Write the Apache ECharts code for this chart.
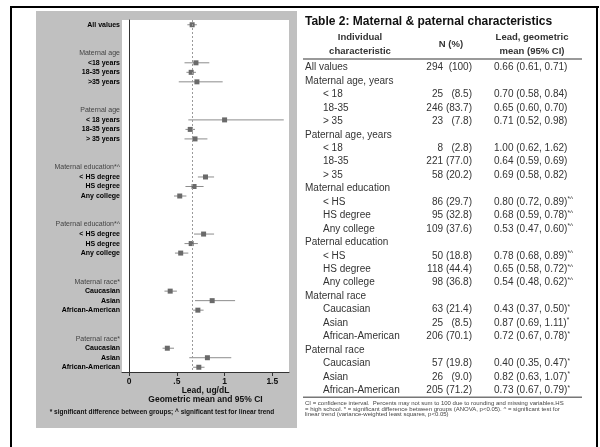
<!DOCTYPE html>
<html>
<head>
<meta charset="utf-8">
<script src="https://cdn.jsdelivr.net/npm/echarts@6/dist/echarts.min.js"></script>
<style>
  html, body { margin: 0; padding: 0; background: #fff; }
  #chart { width: 600px; height: 447px; }
</style>
</head>
<body>
<div id="chart"></div>
<script>
// Table rows (one entry per row; group headings have no values)
const rowNames = [
  'All values',
  'Maternal age, years', '< 18', '18-35', '> 35',
  'Paternal age, years', '< 18', '18-35', '> 35',
  'Maternal education', '< HS', 'HS degree', 'Any college',
  'Paternal education', '< HS', 'HS degree', 'Any college',
  'Maternal race', 'Caucasian', 'Asian', 'African-American',
  'Paternal race', 'Caucasian', 'Asian', 'African-American'
];
// Labels of the same rows on the forest plot
const plotLabels = [
  'All values',
  'Maternal age', '<18 years', '18-35 years', '>35 years',
  'Paternal age', '< 18 years', '18-35 years', '> 35 years',
  'Maternal education*^', '< HS degree', 'HS degree', 'Any college',
  'Paternal education*^', '< HS degree', 'HS degree', 'Any college',
  'Maternal race*', 'Caucasian', 'Asian', 'African-American',
  'Paternal race*', 'Caucasian', 'Asian', 'African-American'
];
const counts = [294, null, 25, 246, 23, null, 8, 221, 58, null, 86, 95, 109, null, 50, 118, 98, null, 63, 25, 206, null, 57, 26, 205];
const percents = ['100', null, '8.5', '83.7', '7.8', null, '2.8', '77.0', '20.2', null, '29.7', '32.8', '37.6', null, '18.8', '44.4', '36.8', null, '21.4', '8.5', '70.1', null, '19.8', '9.0', '71.2'];
const means = [0.66, null, 0.70, 0.65, 0.71, null, 1.00, 0.64, 0.69, null, 0.80, 0.68, 0.53, null, 0.78, 0.65, 0.54, null, 0.43, 0.87, 0.72, null, 0.40, 0.82, 0.73];
const lows  = [0.61, null, 0.58, 0.60, 0.52, null, 0.62, 0.59, 0.58, null, 0.72, 0.59, 0.47, null, 0.68, 0.58, 0.48, null, 0.37, 0.69, 0.67, null, 0.35, 0.63, 0.67];
const highs = [0.71, null, 0.84, 0.70, 0.98, null, 1.62, 0.69, 0.82, null, 0.89, 0.78, 0.60, null, 0.89, 0.72, 0.62, null, 0.50, 1.11, 0.78, null, 0.47, 1.07, 0.79];
const flags = ['', '', '', '', '', '', '', '', '', '', '*^', '*^', '*^', '', '*^', '*^', '*^', '', '*', '*', '*', '', '*', '*', '*'];

const xTicks = [0, 0.5, 1, 1.5];
const xTickLabels = ['0', '.5', '1', '1.5'];
const referenceValue = 0.66;
const axisTitleLines = ['Lead, ug/dL', 'Geometric mean and 95% CI'];
const plotNote = '* significant difference between groups; ^ significant test for linear trend';

const tableTitle = 'Table 2: Maternal & paternal characteristics';
const tableHeads = [['Individual', 'characteristic'], ['N (%)'], ['Lead, geometric', 'mean (95% CI)']];
const tableNote = [
  'CI = confidence interval.  Percents may not sum to 100 due to rounding and missing variables.HS',
  '= high school. * = significant difference between groups (ANOVA, p<0.05). ^ = significant test for',
  'linear trend (variance-weighted least squares, p<0.05)'
];

// ---- layout ----
const FONT = '"Liberation Sans", Arial, sans-serif';
const grid = { left: 122, top: 20, right: 289, bottom: 372 };
const SLOTS = 37;

// forest plot slot for each table row: headings sit after two blank slots
function slotOf(r) {
  if (r === 0) return 0;
  const g = Math.floor((r - 1) / 4), j = (r - 1) % 4;
  return 3 + 6 * g + j;
}
const isHeading = r => r > 0 && counts[r] === null;

const categories = new Array(SLOTS).fill('');
const headingSlot = new Array(SLOTS).fill(false);
rowNames.forEach((_, r) => {
  categories[slotOf(r)] = plotLabels[r];
  headingSlot[slotOf(r)] = isHeading(r);
});

const ciData = [];
means.forEach((m, r) => {
  if (m !== null) ciData.push([m, slotOf(r), lows[r], highs[r]]);
});

// ---- static graphics: frame, panel, table ----
const graphics = [];
// outer frame
graphics.push({ type: 'rect', shape: { x: 10, y: 6, width: 589, height: 2 }, style: { fill: '#000' } });
graphics.push({ type: 'rect', shape: { x: 10, y: 6, width: 2, height: 441 }, style: { fill: '#000' } });
graphics.push({ type: 'rect', shape: { x: 596, y: 6, width: 2, height: 441 }, style: { fill: '#000' } });
// grey panel behind the forest plot, white plotting area
graphics.push({ type: 'rect', z: -20, shape: { x: 36, y: 11, width: 261, height: 417 }, style: { fill: '#c0c0c0' } });
graphics.push({ type: 'rect', z: -19, shape: { x: grid.left, y: grid.top, width: grid.right - grid.left, height: grid.bottom - grid.top }, style: { fill: '#fff' } });

function txt(text, x, y, font, fill, align) {
  return {
    type: 'text', z: 5,
    style: { text, x, y, font, fill, align: align || 'left', verticalAlign: 'middle',
             textAlign: align || 'left', textVerticalAlign: 'middle' }
  };
}

// axis title + footnote of the plot
const plotMid = (grid.left + grid.right) / 2;
graphics.push(txt(axisTitleLines[0], plotMid, 391, 'bold 8.5px ' + FONT, '#111', 'center'));
graphics.push(txt(axisTitleLines[1], plotMid, 400, 'bold 8.5px ' + FONT, '#111', 'center'));
graphics.push(txt(plotNote, 162, 412, 'bold 6.5px ' + FONT, '#111', 'center'));

// table
graphics.push(txt(tableTitle, 305, 22, 'bold 12px ' + FONT, '#111', 'left'));
const headX = [360, 451, 532];
tableHeads.forEach((lines, c) => {
  if (lines.length === 2) {
    graphics.push(txt(lines[0], headX[c], 37, 'bold 9.5px ' + FONT, '#333', 'center'));
    graphics.push(txt(lines[1], headX[c], 51, 'bold 9.5px ' + FONT, '#333', 'center'));
  } else {
    graphics.push(txt(lines[0], headX[c], 44, 'bold 9.5px ' + FONT, '#333', 'center'));
  }
});
graphics.push({ type: 'line', shape: { x1: 303, y1: 59, x2: 582, y2: 59 }, style: { stroke: '#777', lineWidth: 1.5 } });

const rowY0 = 67.5, rowStep = 13.45;
const rowFont = '10px ' + FONT;
rowNames.forEach((name, r) => {
  const y = rowY0 + r * rowStep;
  const indent = (r === 0 || isHeading(r)) ? 305 : 323;
  graphics.push(txt(name, indent, y, rowFont, '#333', 'left'));
  if (counts[r] !== null) {
    graphics.push(txt(String(counts[r]), 443, y, rowFont, '#333', 'right'));
    graphics.push(txt('(' + percents[r] + ')', 472, y, rowFont, '#333', 'right'));
    const val = means[r].toFixed(2) + ' (' + lows[r].toFixed(2) + ', ' + highs[r].toFixed(2) + ')';
    graphics.push({
      type: 'text', z: 5,
      style: {
        text: '{m|' + val + '}' + (flags[r] ? '{s|' + flags[r] + '}' : ''),
        x: 494, y, align: 'left', verticalAlign: 'middle', textAlign: 'left', textVerticalAlign: 'middle',
        rich: {
          m: { font: rowFont, fill: '#333', color: '#333', lineHeight: 12 },
          s: { font: '6.5px ' + FONT, fill: '#333', color: '#333', lineHeight: 12, verticalAlign: 'top', padding: [0, 0, 5, 0] }
        }
      }
    });
  }
});
const lastY = rowY0 + (rowNames.length - 1) * rowStep;
graphics.push({ type: 'line', shape: { x1: 303, y1: lastY + 7, x2: 582, y2: lastY + 7 }, style: { stroke: '#777', lineWidth: 1.5 } });
tableNote.forEach((line, i) => {
  graphics.push(txt(line, 305, lastY + 13 + i * 5.7, '6px ' + FONT, '#444', 'left'));
});

// ---- chart ----
const chart = echarts.init(document.getElementById('chart'), null, { renderer: 'canvas' });
chart.setOption({
  animation: false,
  backgroundColor: '#fff',
  graphic: { elements: graphics },
  grid: {
    left: grid.left, top: grid.top,
    width: grid.right - grid.left, height: grid.bottom - grid.top,
    show: false, containLabel: false
  },
  xAxis: {
    type: 'value',
    min: -0.075, max: 1.675,
    splitLine: { show: false },
    axisLine: { show: true, onZero: false, lineStyle: { color: '#333', width: 1 } },
    axisTick: { show: true, length: 4, customValues: xTicks, lineStyle: { color: '#333' } },
    axisLabel: {
      customValues: xTicks, margin: 5,
      formatter: v => xTickLabels[xTicks.indexOf(Math.round(v * 10) / 10)] ?? '',
      fontFamily: FONT, fontSize: 8.5, fontWeight: 'bold', color: '#111'
    }
  },
  yAxis: {
    type: 'category',
    data: categories,
    inverse: true,
    boundaryGap: true,
    axisLine: { show: true, lineStyle: { color: '#333', width: 1 } },
    axisTick: { show: false },
    splitLine: { show: false },
    axisLabel: {
      interval: 0, margin: 2,
      formatter: (v, i) => v ? (headingSlot[i] ? '{h|' + v + '}' : '{b|' + v + '}') : '',
      rich: {
        h: { fontFamily: FONT, fontSize: 7, color: '#444' },
        b: { fontFamily: FONT, fontSize: 7, fontWeight: 'bold', color: '#000' }
      }
    }
  },
  series: [
    {
      type: 'line',
      data: [],
      silent: true,
      markLine: {
        silent: true, symbol: 'none',
        label: { show: false },
        lineStyle: { color: '#9a9a9a', type: [2, 2], width: 1 },
        data: [{ xAxis: referenceValue }]
      }
    },
    {
      type: 'custom',
      data: ciData,
      encode: { x: [0, 2, 3], y: 1 },
      renderItem: (params, api) => {
        const slot = api.value(1);
        const p = api.coord([api.value(0), slot]);
        const a = api.coord([api.value(2), slot]);
        const b = api.coord([api.value(3), slot]);
        return {
          type: 'group',
          children: [
            { type: 'line', shape: { x1: a[0], y1: p[1], x2: b[0], y2: p[1] }, style: { stroke: '#8c8c8c', lineWidth: 1 } },
            { type: 'rect', shape: { x: p[0] - 2.5, y: p[1] - 2.5, width: 5, height: 5 }, style: { fill: '#6a6a6a' } }
          ]
        };
      }
    }
  ]
});
</script>
</body>
</html>
